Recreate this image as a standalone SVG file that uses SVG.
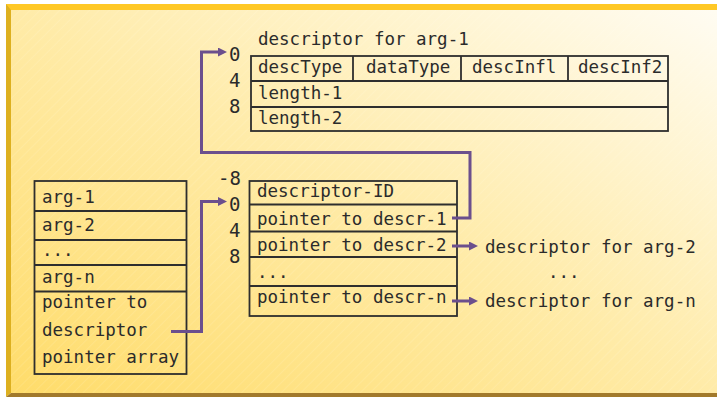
<svg xmlns="http://www.w3.org/2000/svg" width="717" height="397" viewBox="0 0 717 397">
<defs>
<linearGradient id="bg" x1="0" y1="1" x2="1" y2="0">
<stop offset="0" stop-color="#FFDC6A"/>
<stop offset="0.5" stop-color="#FFEBA8"/>
<stop offset="1" stop-color="#FFFCF2"/>
</linearGradient>
<pattern id="hatch" width="7" height="7" patternUnits="userSpaceOnUse" patternTransform="rotate(45)">
<line x1="0" y1="0" x2="0" y2="7" stroke="#FFFFFF" stroke-width="1" stroke-opacity="0.22"/>
</pattern>
<marker id="arr" markerUnits="userSpaceOnUse" markerWidth="10" markerHeight="10" refX="0" refY="4.5" orient="auto">
<path d="M0,0 L9,4.5 L0,9 Z" fill="#6B4F8D"/>
</marker>
<style>
text{font-family:"DejaVu Sans Mono","Liberation Mono",monospace;font-size:17.5px;fill:#2B2B2B}
.num{font-size:19px}
.box{fill:none;stroke:#2E2E2E;stroke-width:1.8}
.con{fill:none;stroke:#6B4F8D;stroke-width:3;marker-end:url(#arr)}
</style>
</defs>
<rect x="0" y="0" width="717" height="397" fill="#FFFFFF"/>
<rect x="11" y="10" width="706" height="383" fill="url(#bg)"/>
<rect x="11" y="10" width="706" height="383" fill="url(#hatch)"/>
<rect x="6" y="4" width="711" height="6" fill="#FFC826"/>
<polygon points="6,4 11,10 11,393 6,397" fill="#DDB020"/>
<polygon points="6,397 11,393 717,393 717,397" fill="#A27A2C"/>

<g id="descriptor-arg1">
<text x="258" y="45">descriptor for arg-1</text>
<text class="num" x="229" y="61">0</text>
<text class="num" x="229" y="87">4</text>
<text class="num" x="229" y="113">8</text>
<rect class="box" x="251" y="56" width="417" height="75"/>
<line class="box" x1="251" y1="81" x2="668" y2="81"/>
<line class="box" x1="251" y1="107" x2="668" y2="107"/>
<line class="box" x1="353" y1="56" x2="353" y2="81"/>
<line class="box" x1="461" y1="56" x2="461" y2="81"/>
<line class="box" x1="568" y1="56" x2="568" y2="81"/>
<text x="258" y="73">descType</text>
<text x="366" y="73">dataType</text>
<text x="472" y="73">descInfl</text>
<text x="578" y="73">descInf2</text>
<text x="258" y="99">length-1</text>
<text x="258" y="124">length-2</text>
</g>

<g id="pointer-array">
<text class="num" x="218" y="185">-8</text>
<text class="num" x="229" y="211">0</text>
<text class="num" x="229" y="237">4</text>
<text class="num" x="229" y="263">8</text>
<rect class="box" x="249.5" y="181" width="207.5" height="135"/>
<line class="box" x1="249.5" y1="204.5" x2="457" y2="204.5"/>
<line class="box" x1="249.5" y1="231.5" x2="457" y2="231.5"/>
<line class="box" x1="249.5" y1="257" x2="457" y2="257"/>
<line class="box" x1="249.5" y1="286" x2="457" y2="286"/>
<text x="257" y="197">descriptor-ID</text>
<text x="257" y="225">pointer to descr-1</text>
<text x="257" y="251">pointer to descr-2</text>
<text x="257" y="278">...</text>
<text x="257" y="303">pointer to descr-n</text>
</g>

<g id="arg-list">
<rect class="box" x="34.5" y="181" width="152" height="193"/>
<line class="box" x1="34.5" y1="211" x2="186.5" y2="211"/>
<line class="box" x1="34.5" y1="240" x2="186.5" y2="240"/>
<line class="box" x1="34.5" y1="265" x2="186.5" y2="265"/>
<line class="box" x1="34.5" y1="291.5" x2="186.5" y2="291.5"/>
<text x="42" y="203">arg-1</text>
<text x="42" y="231">arg-2</text>
<text x="42" y="256">...</text>
<text x="42" y="283">arg-n</text>
<text x="42" y="308">pointer to</text>
<text x="42" y="336">descriptor</text>
<text x="42" y="363">pointer array</text>
</g>

<g id="descriptor-arg2">
<text x="485" y="253">descriptor for arg-2</text>
</g>
<g id="dots">
<text x="548" y="278">...</text>
</g>
<g id="descriptor-argn">
<text x="485" y="307">descriptor for arg-n</text>
</g>

<g id="connectors">
<path class="con" d="M452,218 H470 V152.5 H201.5 V52 H218"/>
<path class="con" d="M171,331.5 H201.5 V201.5 H218"/>
<path class="con" d="M452,246 H469"/>
<path class="con" d="M452,301 H469"/>
</g>
</svg>
